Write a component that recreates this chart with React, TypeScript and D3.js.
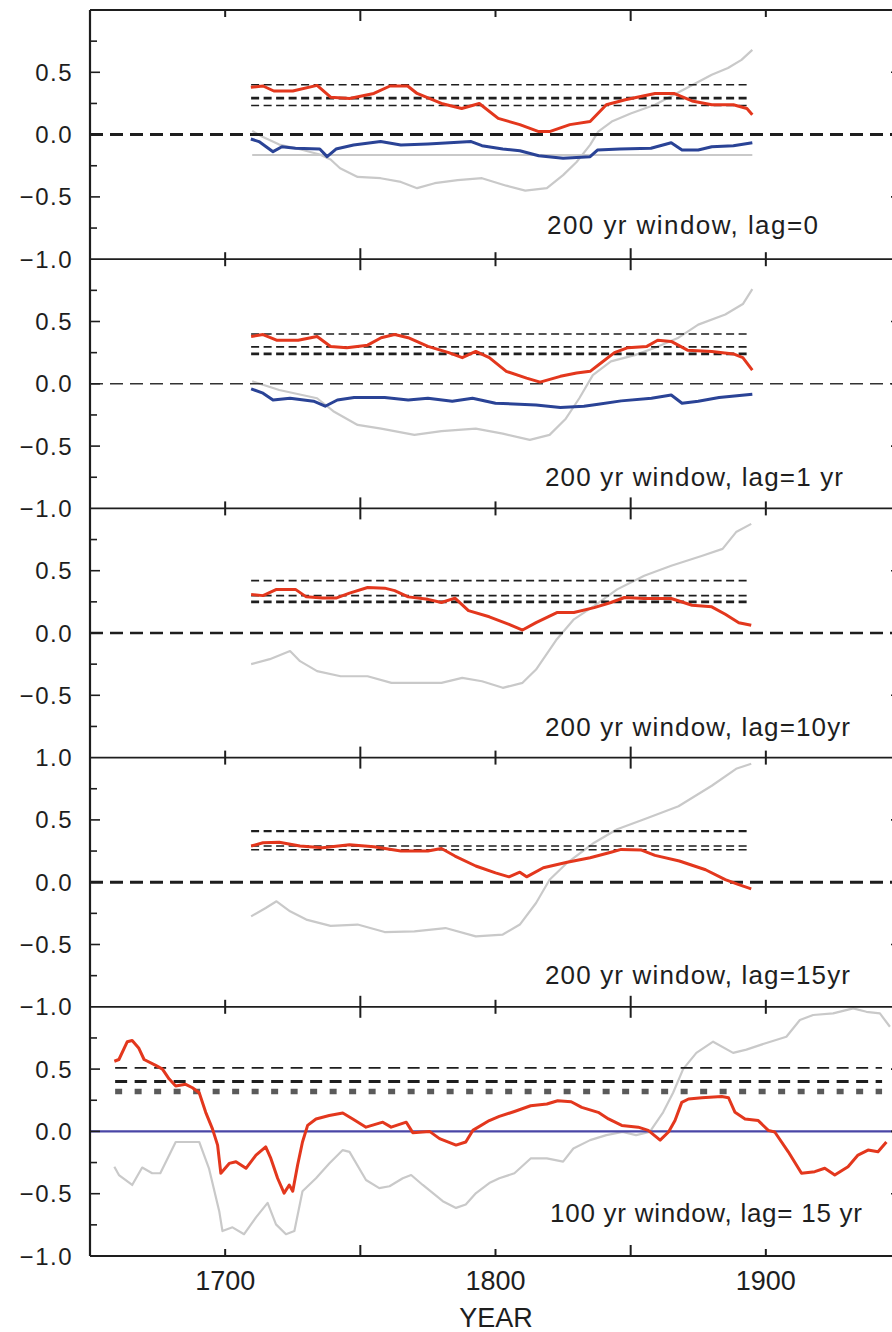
import React from 'react';
import * as d3 from 'd3';

type Pt = [number, number];

// ---- data (year, correlation) ----
const p1Red: Pt[] = [
  [1709.5, 0.38], [1714, 0.39], [1718, 0.35], [1725, 0.35], [1734, 0.395], [1739, 0.3],
  [1746, 0.29], [1755, 0.33], [1761, 0.39], [1767.5, 0.39], [1771, 0.33], [1780, 0.25],
  [1787.5, 0.21], [1794, 0.25], [1801, 0.13], [1809, 0.08], [1816, 0.024], [1820, 0.024],
  [1827.5, 0.08], [1835, 0.105], [1841, 0.24], [1848, 0.28], [1859, 0.33], [1866, 0.33],
  [1872.7, 0.27], [1880, 0.24], [1888, 0.24], [1893, 0.21], [1895, 0.16],
];
const p1Blue: Pt[] = [
  [1709.5, -0.035], [1712.5, -0.056], [1717.7, -0.137], [1721, -0.097], [1726, -0.11],
  [1735, -0.116], [1737.7, -0.177], [1741, -0.116], [1747.5, -0.083], [1757.5, -0.056],
  [1765, -0.083], [1775, -0.075], [1791, -0.056], [1795, -0.089], [1802.7, -0.116],
  [1809, -0.13], [1816, -0.17], [1825, -0.19], [1835, -0.177], [1837.7, -0.124],
  [1846, -0.116], [1857.5, -0.11], [1865, -0.065], [1869, -0.124], [1875, -0.124],
  [1880, -0.097], [1888, -0.089], [1895, -0.065],
];
const p1Gray: Pt[] = [
  [1710, 0.03], [1714, -0.02], [1720, -0.08], [1728, -0.12], [1735, -0.16], [1739, -0.2],
  [1742.5, -0.27], [1749, -0.34], [1757.5, -0.35], [1765, -0.38], [1771, -0.43],
  [1777.5, -0.39], [1786, -0.365], [1795, -0.35], [1804, -0.41], [1811, -0.45],
  [1819, -0.43], [1825, -0.325], [1830, -0.22], [1835, -0.083], [1838, 0.024],
  [1843, 0.105], [1850, 0.17], [1859, 0.24], [1866, 0.32], [1873, 0.4], [1880, 0.48],
  [1886, 0.535], [1891, 0.6], [1895, 0.68],
];
const p1GrayLevel: Pt[] = [[1710, -0.164], [1895, -0.164]];

const p2Red: Pt[] = [
  [1709.6, 0.38], [1714, 0.395], [1719, 0.35], [1727, 0.35], [1734, 0.38], [1739, 0.3],
  [1745, 0.29], [1752.7, 0.31], [1757.7, 0.37], [1762.7, 0.395], [1767.7, 0.37],
  [1775, 0.3], [1782.7, 0.25], [1787.7, 0.21], [1792.7, 0.26], [1797.7, 0.21],
  [1804, 0.1], [1811.5, 0.046], [1816.5, 0.013], [1824, 0.06], [1830, 0.086],
  [1835, 0.1], [1839, 0.167], [1844, 0.25], [1849, 0.29], [1856, 0.3], [1860, 0.35],
  [1865, 0.34], [1871, 0.27], [1880, 0.26], [1888, 0.24], [1891.5, 0.21], [1895, 0.11],
];
const p2Blue: Pt[] = [
  [1709.6, -0.04], [1714, -0.075], [1717.7, -0.13], [1724, -0.116], [1732.7, -0.14],
  [1737, -0.18], [1741.5, -0.13], [1747.7, -0.11], [1759, -0.11], [1767.7, -0.13],
  [1775, -0.116], [1784, -0.14], [1791.5, -0.116], [1800, -0.156], [1815, -0.17],
  [1824, -0.19], [1832.7, -0.18], [1838, -0.164], [1846.5, -0.137], [1857.7, -0.116],
  [1865, -0.09], [1869, -0.156], [1875, -0.14], [1882.7, -0.11], [1895, -0.083],
];
const p2Gray: Pt[] = [
  [1710, 0.02], [1720, -0.05], [1734, -0.116], [1740, -0.22], [1749, -0.33],
  [1757.7, -0.36], [1770, -0.41], [1780, -0.38], [1792.7, -0.36], [1802.7, -0.4],
  [1812.7, -0.45], [1820, -0.41], [1826, -0.28], [1831, -0.116], [1836, 0.07],
  [1842.7, 0.18], [1851.5, 0.23], [1859, 0.29], [1867.7, 0.37], [1875, 0.475],
  [1885, 0.556], [1891.5, 0.64], [1895, 0.76],
];

const p3Red: Pt[] = [
  [1709.6, 0.31], [1714, 0.3], [1719, 0.35], [1726, 0.35], [1730, 0.29], [1736, 0.28],
  [1741, 0.28], [1746, 0.32], [1752.7, 0.365], [1759, 0.36], [1762.7, 0.34],
  [1767.7, 0.29], [1775, 0.27], [1780, 0.245], [1785, 0.28], [1790, 0.18],
  [1797.7, 0.13], [1805, 0.07], [1810, 0.024], [1815, 0.083], [1822.7, 0.164],
  [1829, 0.164], [1836.5, 0.204], [1842.7, 0.245], [1847.7, 0.285], [1855, 0.277],
  [1865, 0.277], [1872.7, 0.223], [1880, 0.21], [1885, 0.15], [1890, 0.083],
  [1894.6, 0.062],
];
const p3Gray: Pt[] = [
  [1709.6, -0.25], [1716.5, -0.21], [1724, -0.145], [1727.7, -0.226], [1734, -0.306],
  [1742.7, -0.347], [1752.7, -0.347], [1761.5, -0.4], [1770, -0.4], [1780, -0.4],
  [1787.7, -0.36], [1795, -0.387], [1802.7, -0.44], [1810, -0.4], [1815, -0.293],
  [1822.7, -0.05], [1829, 0.11], [1836.5, 0.218], [1845, 0.35], [1855, 0.46],
  [1865, 0.54], [1876.5, 0.62], [1884, 0.675], [1889, 0.81], [1894.6, 0.876],
];

const p4Red: Pt[] = [
  [1709.6, 0.29], [1714, 0.317], [1720, 0.32], [1727.7, 0.29], [1736, 0.277],
  [1746, 0.3], [1755, 0.285], [1765, 0.25], [1775, 0.25], [1780, 0.27], [1785, 0.21],
  [1792.7, 0.13], [1800, 0.075], [1805, 0.043], [1809, 0.08], [1811.5, 0.043],
  [1817.7, 0.116], [1826.5, 0.16], [1835, 0.196], [1842.7, 0.24], [1846.5, 0.263],
  [1854, 0.258], [1859, 0.215], [1868, 0.17], [1877.7, 0.1], [1885, 0.02],
  [1890, -0.02], [1894.6, -0.054],
];
const p4Gray: Pt[] = [
  [1709.6, -0.274], [1715, -0.207], [1719, -0.153], [1724, -0.234], [1730, -0.3],
  [1739, -0.35], [1749, -0.34], [1759, -0.4], [1770, -0.395], [1781.5, -0.368],
  [1792.7, -0.435], [1802.7, -0.42], [1809, -0.34], [1815, -0.167], [1820, 0.02],
  [1826.5, 0.156], [1836.5, 0.317], [1845, 0.425], [1855, 0.505], [1867.7, 0.61],
  [1880, 0.774], [1889, 0.91], [1894.6, 0.95],
];

const p5Red: Pt[] = [
  [1659, 0.563], [1660.7, 0.577], [1663.8, 0.72], [1665.6, 0.73], [1668, 0.67],
  [1670, 0.577], [1674.3, 0.53], [1676.8, 0.5], [1679.3, 0.42], [1681.7, 0.365],
  [1685.4, 0.378], [1687.9, 0.35], [1690.4, 0.31], [1692.8, 0.153], [1695.3, 0.02],
  [1697.2, -0.11], [1698.4, -0.336], [1701.5, -0.257], [1704, -0.243], [1707.7, -0.296],
  [1711.4, -0.19], [1715, -0.124], [1716.9, -0.217], [1719.4, -0.376], [1721.8, -0.495],
  [1723.7, -0.43], [1725, -0.48], [1726.8, -0.27], [1728.6, -0.085], [1730.5, 0.048],
  [1733.6, 0.1], [1738.5, 0.127], [1743.5, 0.148], [1747.2, 0.1], [1752.1, 0.034],
  [1758.3, 0.074], [1761.4, 0.034], [1767, 0.074], [1769.4, -0.01], [1775.6, 0],
  [1779.3, -0.058], [1785.4, -0.11], [1789, -0.085], [1791.6, 0.008], [1797.7, 0.087],
  [1801.4, 0.12], [1807, 0.16], [1813, 0.206], [1819, 0.22], [1823, 0.246], [1828, 0.238],
  [1831.9, 0.193], [1838, 0.153], [1841.8, 0.1], [1846.7, 0.048], [1852.8, 0.034],
  [1856.5, 0.008], [1860.9, -0.07], [1864, -0.005], [1866.4, 0.087], [1868.9, 0.233],
  [1871.4, 0.26], [1876.3, 0.27], [1883.7, 0.28], [1886.2, 0.27], [1888.6, 0.153],
  [1892.3, 0.1], [1897.2, 0.087], [1900.9, 0.008], [1903.3, -0.005], [1908.3, -0.164],
  [1913.2, -0.336], [1918.1, -0.323], [1921.8, -0.296], [1925.5, -0.35], [1930.4, -0.283],
  [1934.1, -0.19], [1937.8, -0.15], [1941.5, -0.164], [1944.6, -0.085],
];
const p5Gray: Pt[] = [
  [1659, -0.283], [1660.7, -0.35], [1665.6, -0.43], [1669.3, -0.29], [1673, -0.336],
  [1676, -0.336], [1681.7, -0.085], [1685.4, -0.085], [1690.4, -0.085], [1694, -0.296],
  [1697.8, -0.64], [1699, -0.8], [1702.7, -0.77], [1707, -0.825], [1711.4, -0.69],
  [1715.7, -0.574], [1718.8, -0.746], [1722.5, -0.825], [1725.6, -0.8], [1728.6, -0.48],
  [1733.6, -0.376], [1738.5, -0.257], [1743.5, -0.15], [1746, -0.164], [1752.1, -0.39],
  [1757, -0.455], [1760.8, -0.44], [1765.7, -0.376], [1768.8, -0.35], [1773.1, -0.43],
  [1780.5, -0.56], [1785.4, -0.614], [1789, -0.587], [1792.8, -0.495], [1797.7, -0.415],
  [1801.4, -0.376], [1807, -0.336], [1813, -0.217], [1819, -0.217], [1825, -0.243],
  [1828.8, -0.137], [1835, -0.07], [1841, -0.03], [1847, -0.005], [1852, -0.03],
  [1857, -0.005], [1862, 0.153], [1865.7, 0.31], [1869.4, 0.5], [1874.3, 0.63],
  [1880.5, 0.72], [1887.9, 0.63], [1892.8, 0.656], [1900.2, 0.71], [1907.6, 0.76],
  [1912.6, 0.894], [1917.5, 0.934], [1924.9, 0.947], [1932.3, 0.987], [1937.2, 0.96],
  [1942.2, 0.947], [1945.9, 0.84],
];

// significance levels (horizontal dashed lines)
const p1Levels = [0.4, 0.293, 0.234];
const p2Levels = [0.4, 0.296, 0.24];
const p3Levels = [0.42, 0.3, 0.25];
const p4Levels = [0.41, 0.29, 0.26];
const p5Levels = [0.51, 0.4, 0.32];
const span200: Pt = [1709.6, 1893];
const span100: Pt = [1659.3, 1943];

const windowLabels = [
  '200 yr window, lag=0',
  '200 yr window, lag=1 yr',
  '200 yr window, lag=10yr',
  '200 yr window, lag=15yr',
  '100 yr window, lag= 15 yr',
];
const boundaryLabels = ['\u22121.0', '\u22121.0', '1.0', '\u22121.0', '\u22121.0'];
const valueLabels = [0.5, 0, -0.5];
const yearTicks = [1650, 1700, 1750, 1800, 1850, 1900, 1950];
const yearLabels = [1700, 1800, 1900];
const valueTicks = [-0.75, -0.5, -0.25, 0, 0.25, 0.5, 0.75];

const panels = [
  { red: p1Red, blue: p1Blue, gray: p1Gray, grayLevel: p1GrayLevel, levels: p1Levels, span: span200 },
  { red: p2Red, blue: p2Blue, gray: p2Gray, grayLevel: null, levels: p2Levels, span: span200 },
  { red: p3Red, blue: null, gray: p3Gray, grayLevel: null, levels: p3Levels, span: span200 },
  { red: p4Red, blue: null, gray: p4Gray, grayLevel: null, levels: p4Levels, span: span200 },
  { red: p5Red, blue: null, gray: p5Gray, grayLevel: null, levels: p5Levels, span: span100 },
];

// per-panel styling
const levelWidths = [[1.6, 2.6, 1.6], [1.6, 1.6, 2.6], [1.6, 1.8, 2.8], [2.2, 1.6, 1.6], [1.6, 3, 5.5]];
const zeroWidths = [3, 1.6, 2.4, 3, 2.4];
const labelBox = [
  { x: 547, w: 271, base: 234 },
  { x: 545, w: 298, base: 486 },
  { x: 545, w: 305, base: 736 },
  { x: 545, w: 305, base: 984 },
  { x: 550, w: 312, base: 1222 },
];

const W = 892;
const H = 1332;
const left = 90;
const right = 901;
const top0 = 10;
const panelH = 249.2;
const font = '"Liberation Sans", Arial, Helvetica, sans-serif';
const RED = '#e3371d';
const BLUE = '#2a4396';
const GRAY = '#c9c9c9';
const INK = '#1e1e1e';

const App: React.FC = () => {
  const x = d3.scaleLinear().domain([1650, 1950]).range([left, right]);
  const bottom = top0 + panelH * panels.length;

  return (
    <svg width={W} height={H} style={{ position: 'absolute', left: 0, top: 0, background: '#fff' }}>
      <rect x={0} y={0} width={W} height={H} fill="#fff" />
      {panels.map((p, i) => {
        const t = top0 + panelH * i;
        const y = d3.scaleLinear().domain([-1, 1]).range([t + panelH, t]);
        const line = d3.line<Pt>().x(d => x(d[0])).y(d => y(d[1]));
        const last = i === panels.length - 1;
        return (
          <g key={i}>
            {/* gray reference curve */}
            <path d={line(p.gray) || ''} fill="none" stroke={GRAY} strokeWidth={2.2} strokeLinejoin="round" />
            {p.grayLevel && (
              <path d={line(p.grayLevel) || ''} fill="none" stroke={GRAY} strokeWidth={2} />
            )}
            {/* significance levels */}
            {p.levels.map((v, k) => (
              <line
                key={k}
                x1={x(p.span[0])}
                x2={x(p.span[1])}
                y1={y(v)}
                y2={y(v)}
                stroke={last && k === 2 ? '#5a5a5a' : INK}
                strokeWidth={levelWidths[i][k]}
                strokeDasharray={last ? (k === 2 ? '7,12.5' : '12,7.5') : '8,4.5'}
              />
            ))}
            {/* zero line */}
            {last ? (
              <line x1={left} x2={right} y1={y(0)} y2={y(0)} stroke="#4a46a6" strokeWidth={zeroWidths[i]} />
            ) : (
              <line
                x1={left}
                x2={right}
                y1={y(0)}
                y2={y(0)}
                stroke={i === 1 ? '#333' : INK}
                strokeWidth={zeroWidths[i]}
                strokeDasharray="13,7"
              />
            )}
            {p.blue && (
              <path d={line(p.blue) || ''} fill="none" stroke={BLUE} strokeWidth={3} strokeLinejoin="round" />
            )}
            <path d={line(p.red) || ''} fill="none" stroke={RED} strokeWidth={3} strokeLinejoin="round" />

            {/* ticks */}
            {valueTicks.map(v => {
              const len = Math.abs(v * 2) % 1 === 0 ? 10 : 7;
              return (
                <g key={v} stroke={INK} strokeWidth={1.6}>
                  <line x1={left} x2={left + len} y1={y(v)} y2={y(v)} />
                  <line x1={right} x2={right - len} y1={y(v)} y2={y(v)} />
                </g>
              );
            })}
            {yearTicks.map(yr => {
              const len = yr % 100 === 50 ? 11 : 7;
              return (
                <g key={yr} stroke={INK} strokeWidth={2}>
                  <line x1={x(yr)} x2={x(yr)} y1={t} y2={t + len} />
                  <line x1={x(yr)} x2={x(yr)} y1={t + panelH} y2={t + panelH - len} />
                </g>
              );
            })}
            {/* panel frame */}
            <line x1={left} x2={right} y1={t} y2={t} stroke={INK} strokeWidth={1.8} />

            {/* value labels */}
            {valueLabels.map(v => (
              <text
                key={v}
                x={73}
                y={y(v) + 8.5}
                textAnchor="end"
                fontFamily={font}
                fontSize={24}
                fill={INK}
                letterSpacing={1.5}
              >
                {v < 0 ? '\u2212' + Math.abs(v).toFixed(1) : v.toFixed(1)}
              </text>
            ))}
            <text
              x={73}
              y={t + panelH + 8.5}
              textAnchor="end"
              fontFamily={font}
              fontSize={24}
              fill={INK}
              letterSpacing={1.5}
            >
              {boundaryLabels[i]}
            </text>

            <text
              x={labelBox[i].x}
              y={labelBox[i].base}
              fontFamily={font}
              fontSize={26}
              fill={INK}
              textLength={labelBox[i].w}
              lengthAdjust="spacing"
            >
              {windowLabels[i]}
            </text>
          </g>
        );
      })}
      <line x1={left} x2={right} y1={bottom} y2={bottom} stroke={INK} strokeWidth={2} />
      <line x1={left} x2={left} y1={top0} y2={bottom} stroke={INK} strokeWidth={2.2} />
      <line x1={right} x2={right} y1={top0} y2={bottom} stroke={INK} strokeWidth={2.2} />

      {yearLabels.map(yr => (
        <text key={yr} x={x(yr)} y={1290} textAnchor="middle" fontFamily={font} fontSize={27} fill={INK}>
          {yr}
        </text>
      ))}
      <text x={496} y={1327} textAnchor="middle" fontFamily={font} fontSize={27} fill={INK}>
        YEAR
      </text>
    </svg>
  );
};

export default App;
